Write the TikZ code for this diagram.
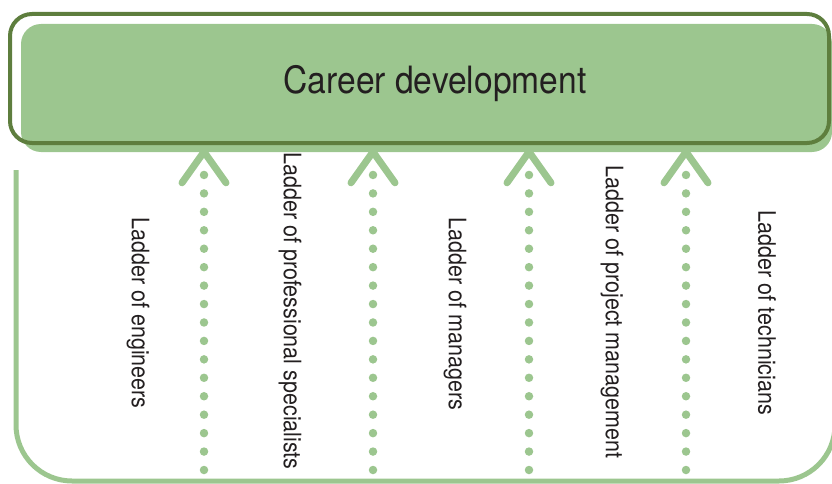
\documentclass[tikz,border=0pt]{standalone}
\usepackage{fontspec}
\usepackage{graphicx}
\setmainfont{TeX Gyre Heros}
\usetikzlibrary{calc}
\pgfdeclarelayer{edgelayer}
\pgfdeclarelayer{nodelayer}
\pgfsetlayers{edgelayer,nodelayer,main}
\definecolor{leaf}{HTML}{9CC68F}
\definecolor{moss}{HTML}{5E7E3E}
\definecolor{ink}{HTML}{231F20}
\newcommand{\tall}[1]{\scalebox{1}[1.12]{#1}}
\tikzstyle{none}=[inner sep=0pt]
\tikzstyle{goalfill}=[rectangle,rounded corners=20pt,fill=leaf,minimum width=811pt,minimum height=128pt]
\tikzstyle{goalline}=[rectangle,rounded corners=22pt,draw=moss,line width=4pt,minimum width=819pt,minimum height=129pt]
\tikzstyle{title}=[inner sep=0pt,text=ink,font=\fontsize{33.6}{40}\selectfont]
\tikzstyle{ladder}=[inner sep=0pt,rotate=-90,text=ink,font=\fontsize{21.5}{26}\selectfont]
\tikzstyle{dots}=[draw=leaf,line width=8.5pt,line cap=round,dash pattern=on 0pt off 18.44pt]
\tikzstyle{chevron}=[draw=leaf,line width=7pt,line cap=round,line join=round]
\tikzstyle{frame}=[draw=leaf,line width=5pt,rounded corners=56pt]

\begin{document}
\begin{tikzpicture}[x=1pt,y=-1pt]
	\useasboundingbox (0,0) rectangle (832,484);
	\begin{pgfonlayer}{nodelayer}
		\node [style=goalfill] (0) at (426.5, 88) {};
		\node [style=goalline] (1) at (419.5, 78.5) {};
		\node [style=title] (2) at (435, 84) {\tall{Career development}};
		\node [style=ladder] (3) at (138, 313) {\tall{Ladder of engineers}};
		\node [style=ladder] (4) at (290, 311) {\tall{Ladder of professional specialists}};
		\node [style=ladder] (5) at (455, 314) {\tall{Ladder of managers}};
		\node [style=ladder] (6) at (612, 312) {\tall{Ladder of project management}};
		\node [style=ladder] (7) at (767, 313) {\tall{Ladder of technicians}};
		\coordinate (8) at (204, 470);
		\coordinate (9) at (204, 174.8);
		\coordinate (10) at (373, 470);
		\coordinate (11) at (373, 174.8);
		\coordinate (12) at (529, 470);
		\coordinate (13) at (529, 174.8);
		\coordinate (14) at (686, 470);
		\coordinate (15) at (686, 174.8);
		\coordinate (16) at (16, 170);
		\coordinate (17) at (16, 481);
		\coordinate (18) at (835, 481);
		\coordinate (19) at (835, 170);
	\end{pgfonlayer}
	\begin{pgfonlayer}{edgelayer}
		\draw [style=frame] (16) -- (17) -- (18) -- (19);
		\foreach \b/\t in {8/9, 10/11, 12/13, 14/15} {
			\draw [style=dots] (\b) -- (\t);
		}
	\end{pgfonlayer}
	\foreach \t in {9, 11, 13, 15} {
		\draw [style=chevron] ($(\t)+(-22,8)$) -- ($(\t)+(0,-23)$) -- ($(\t)+(22,8)$);
	}
\end{tikzpicture}
\end{document}
